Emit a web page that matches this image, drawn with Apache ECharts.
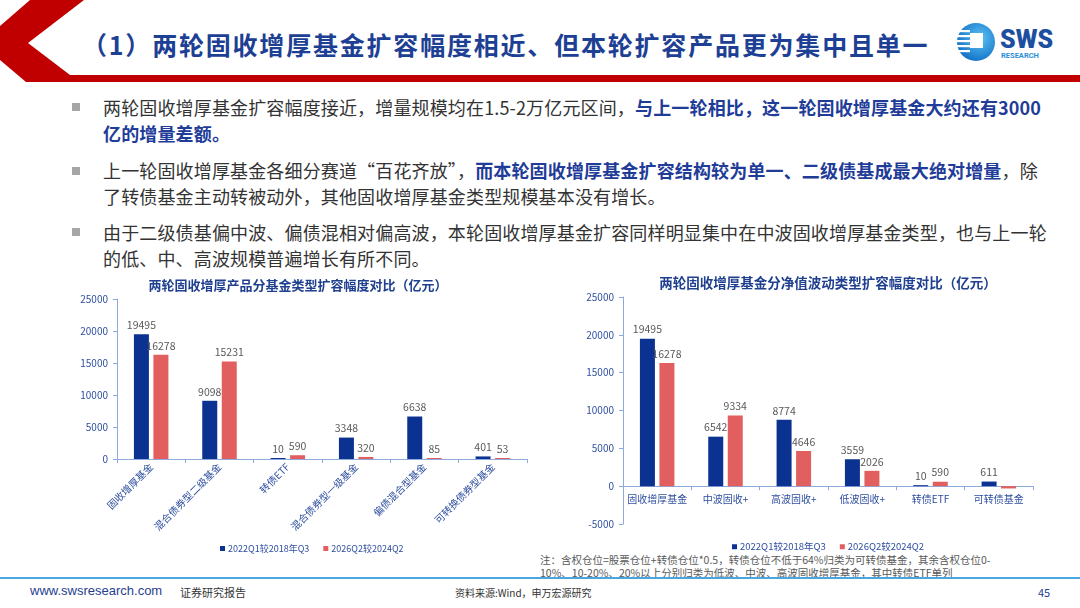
<!DOCTYPE html>
<html>
<head>
<meta charset="utf-8">
<script src="https://cdn.jsdelivr.net/npm/echarts@6/dist/echarts.min.js"></script>
<style>
  html, body { margin:0; padding:0; background:#fff; }
  body { width:1080px; height:608px; position:relative; overflow:hidden;
         font-family:"Noto Sans CJK SC","Noto Sans",sans-serif; }
  .abs { position:absolute; white-space:nowrap; }
  #title { left:82px; top:26px; font-size:25px; font-weight:700; color:#1d3f94; letter-spacing:1.8px; }
  .line { left:103px; font-size:18px; color:#333; line-height:26px; letter-spacing:0.15px; }
  .line b { color:#1f3c99; }
  .dot { left:72px; width:8px; height:8px; background:#a6a6a6; }
  #note { left:540px; top:553px; font-size:10.5px; color:#595959; line-height:13px; }
  #foot-line { left:0; top:577px; width:1080px; height:2px; background:#4aa6e0; }
  #chart { position:absolute; left:0; top:0; width:1080px; height:608px; }
</style>
</head>
<body>
<!-- header decoration -->
<svg class="abs" style="left:0;top:0" width="1080" height="90">
  <polygon points="30,0 84,0 28,43 70,75 1080,75 1080,82 26,82 0,60 0,26" fill="#c00000"/>
</svg>
<div id="title" class="abs">（1）两轮固收增厚基金扩容幅度相近、但本轮扩容产品更为集中且单一</div>

<!-- logo -->
<svg class="abs" style="left:955px;top:20px" width="115" height="46">
  <defs>
    <radialGradient id="lg" cx="60%" cy="40%" r="60%">
      <stop offset="0%" stop-color="#5fc3f5"/>
      <stop offset="100%" stop-color="#1677c9"/>
    </radialGradient>
  </defs>
  <circle cx="21" cy="22" r="19" fill="url(#lg)"/>
  <rect x="2" y="10" width="13" height="2.2" fill="#fff"/>
  <rect x="2" y="15" width="13" height="2.2" fill="#fff"/>
  <rect x="2" y="20" width="13" height="2.2" fill="#fff"/>
  <rect x="2" y="25" width="13" height="2.2" fill="#fff"/>
  <rect x="2" y="30" width="13" height="2.2" fill="#fff"/>
  <rect x="15" y="13" width="13" height="15" fill="#fff"/>
  <text x="45" y="28" font-family="Roboto, sans-serif" font-weight="900" font-size="25" fill="#1d4fa0">SWS</text>
  <text x="46" y="38" font-family="Roboto, sans-serif" font-weight="700" font-size="7.5" fill="#2a8fd8">RESEARCH</text>
</svg>

<!-- bullets -->
<div class="abs dot" style="top:103px"></div>
<div class="abs line" style="top:94px">两轮固收增厚基金扩容幅度接近，增量规模均在1.5-2万亿元区间，<b>与上一轮相比，这一轮固收增厚基金大约还有3000</b></div>
<div class="abs line" style="top:120px"><b>亿的增量差额。</b></div>
<div class="abs dot" style="top:167px"></div>
<div class="abs line" style="top:157px">上一轮固收增厚基金各细分赛道“百花齐放”，<b>而本轮固收增厚基金扩容结构较为单一、二级债基成最大绝对增量</b>，除</div>
<div class="abs line" style="top:183px">了转债基金主动转被动外，其他固收增厚基金类型规模基本没有增长。</div>
<div class="abs dot" style="top:228px"></div>
<div class="abs line" style="top:219px">由于二级债基偏中波、偏债混相对偏高波，本轮固收增厚基金扩容同样明显集中在中波固收增厚基金类型，也与上一轮</div>
<div class="abs line" style="top:245px">的低、中、高波规模普遍增长有所不同。</div>

<div id="note" class="abs">注：含权仓位=股票仓位+转债仓位*0.5，转债仓位不低于64%归类为可转债基金，其余含权仓位0-<br>10%、10-20%、20%以上分别归类为低波、中波、高波固收增厚基金，其中转债ETF单列</div>

<!-- footer -->
<div id="foot-line" class="abs"></div>
<div class="abs" style="left:30px;top:583px;font-size:13px;color:#1f3f8f;font-family:Arial,'Liberation Sans',sans-serif">www.swsresearch.com</div>
<div class="abs" style="left:180px;top:584px;font-size:11px;color:#333">证券研究报告</div>
<div class="abs" style="left:455px;top:585px;font-size:10px;color:#333">资料来源:Wind，申万宏源研究</div>
<div class="abs" style="left:1038px;top:584px;font-size:11px;color:#1f3f8f">45</div>

<div id="chart"></div>

<script>
// 左图：分基金类型
var catsA = ['固收增厚基金', '混合债券型二级基金', '转债ETF', '混合债券型一级基金', '偏债混合型基金', '可转换债券型基金'];
var prevA = [19495, 9098, 10, 3348, 6638, 401];
var currA = [16278, 15231, 590, 320, 85, 53];
// 右图：分净值波动类型
var catsB = ['固收增厚基金', '中波固收+', '高波固收+', '低波固收+', '转债ETF', '可转债基金'];
var prevB = [19495, 6542, 8774, 3559, 10, 611];
var currB = [16278, 9334, 4646, 2026, 590, -300];
var names = ['2022Q1较2018年Q3', '2026Q2较2024Q2'];

var blue = '#0b3290', red = '#e25f5f';
var axisColor = '#8ea9db', axisText = '#2e4e9e';

var chart = echarts.init(document.getElementById('chart'));

function xAx(idx, cats, rotate, margin) {
    return {
        type: 'category', gridIndex: idx, data: cats,
        axisLine: {lineStyle: {color: axisColor}},
        axisTick: {show: true, length: 4, lineStyle: {color: axisColor}},
        axisLabel: {
            color: axisText, fontSize: 10, rotate: rotate, margin: margin,
            interval: 0, fontFamily: 'Noto Sans CJK SC'
        }
    };
}
function yAx(idx, min) {
    return {
        type: 'value', gridIndex: idx, min: min, max: 25000, interval: 5000,
        axisLine: {show: true, lineStyle: {color: axisColor}},
        axisTick: {show: true, length: 4, lineStyle: {color: axisColor}},
        splitLine: {show: false},
        axisLabel: {color: axisText, fontSize: 10, margin: 9, formatter: function (v) { return String(v); }}
    };
}
function bar(name, data, color, idx, hideNeg) {
    return {
        name: name, type: 'bar', xAxisIndex: idx, yAxisIndex: idx,
        data: data, barWidth: 15, barGap: '30%', barMinHeight: 1,
        itemStyle: {color: color},
        label: {
            show: true, position: 'top', color: '#595959', fontSize: 10.5, distance: 4,
            formatter: function (p) { return (hideNeg && p.value < 0) ? '' : String(p.value); }
        }
    };
}

var option = {
    animation: false,
    textStyle: {fontFamily: 'Noto Sans CJK SC'},
    title: [
        {text: '两轮固收增厚产品分基金类型扩容幅度对比（亿元）', left: 293, top: 274, textAlign: 'center',
         textStyle: {fontSize: 13, fontWeight: 'bold', color: '#1f3f8f'}},
        {text: '两轮固收增厚基金分净值波动类型扩容幅度对比（亿元）', left: 823, top: 271, textAlign: 'center',
         textStyle: {fontSize: 13.5, fontWeight: 'bold', color: '#1f3f8f'}}
    ],
    legend: [
        {data: names, left: 215, top: 539, itemWidth: 5, itemHeight: 5, itemGap: 14,
         icon: 'rect', textStyle: {fontSize: 9, color: '#2e4e9e', padding: [0, 0, 0, -2]}},
        {data: names, left: 727, top: 537, itemWidth: 5, itemHeight: 5, itemGap: 14,
         icon: 'rect', textStyle: {fontSize: 9.5, color: '#2e4e9e', padding: [0, 0, 0, -2]}}
    ],
    grid: [
        {left: 117, top: 299, right: 553, bottom: 149},
        {left: 623, top: 297, right: 47, bottom: 84}
    ],
    xAxis: [xAx(0, catsA, 45, 6), xAx(1, catsB, 0, -30)],
    yAxis: [yAx(0, 0), yAx(1, -5000)],
    series: [
        bar(names[0], prevA, blue, 0),
        bar(names[1], currA, red, 0),
        bar(names[0], prevB, blue, 1),
        bar(names[1], currB, red, 1, true)
    ]
};
chart.setOption(option);
</script>
</body>
</html>
